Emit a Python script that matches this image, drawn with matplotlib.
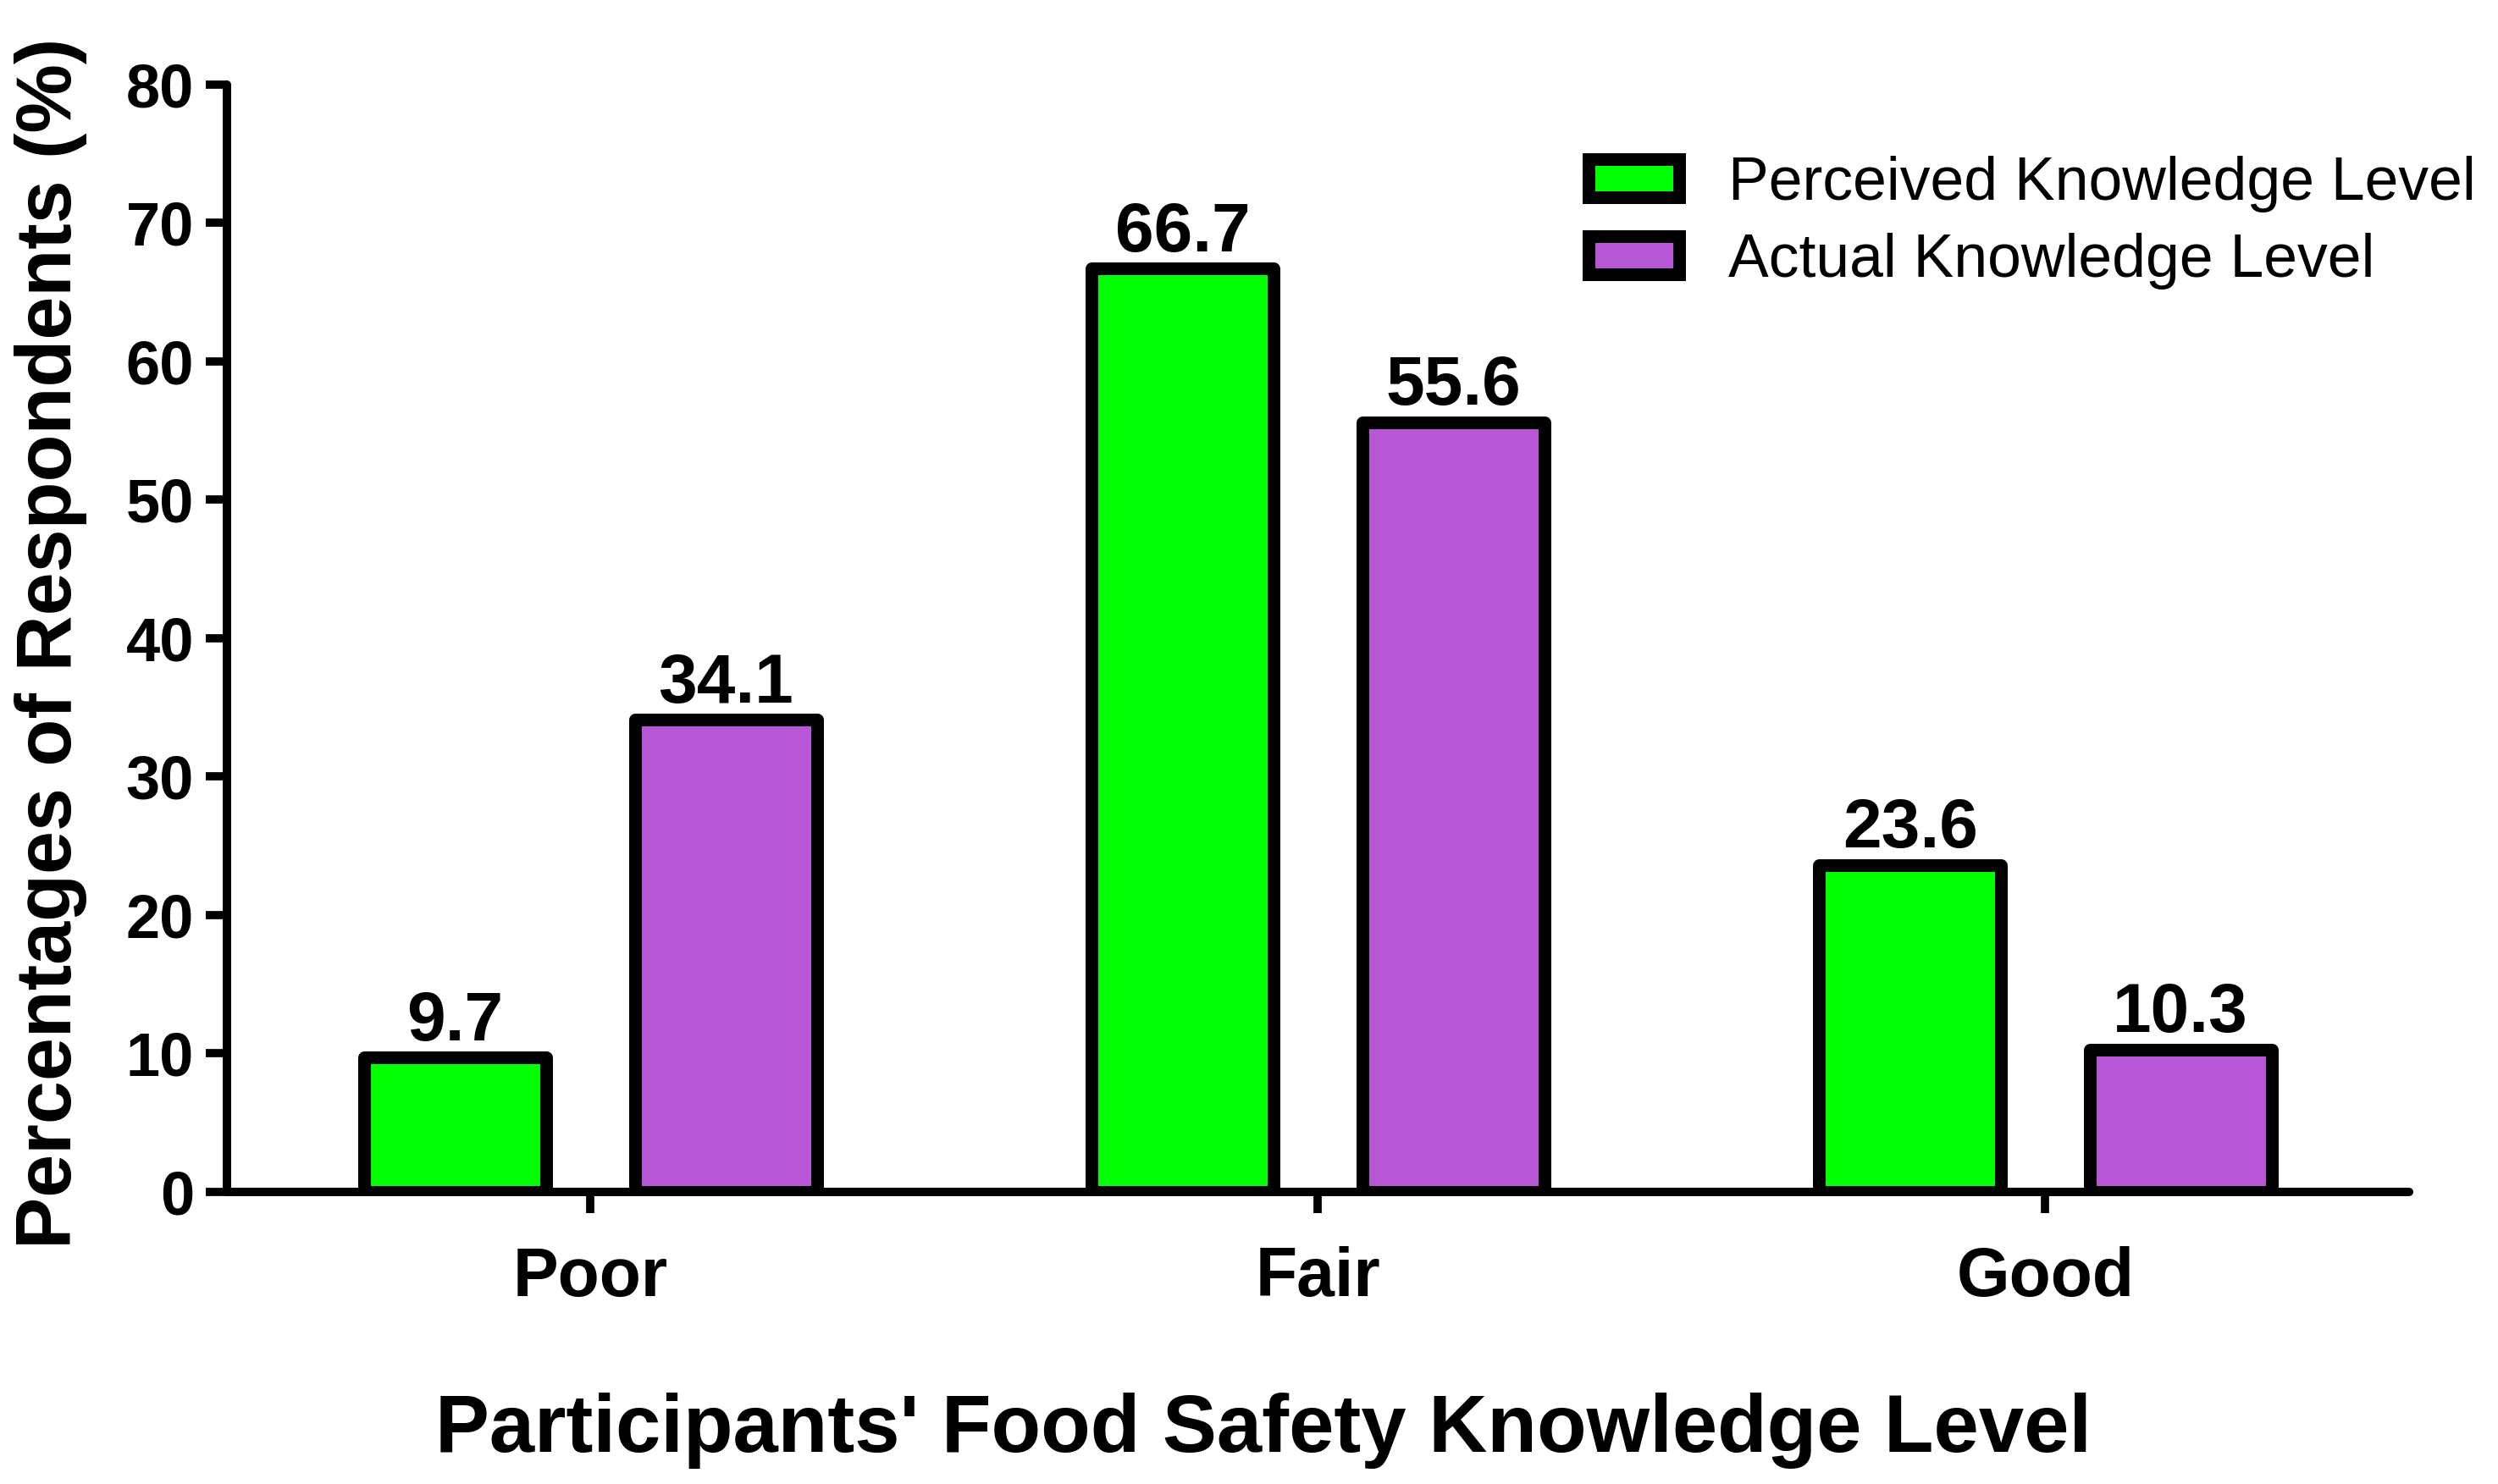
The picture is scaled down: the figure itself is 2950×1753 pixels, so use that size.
import matplotlib
matplotlib.use("Agg")
import matplotlib.pyplot as plt
import numpy as np

plt.rcParams['font.family'] = ['Liberation Sans', 'DejaVu Sans']

# data
categories = ['Poor', 'Fair', 'Good']
perceived = [9.7, 66.7, 23.6]
actual = [34.1, 55.6, 10.3]
series_names = ['Perceived Knowledge Level', 'Actual Knowledge Level']
yticks = [0, 10, 20, 30, 40, 50, 60, 70, 80]

green = '#00FF00'
purple = '#B857D6'

fig = plt.figure(figsize=(29.5, 17.53), dpi=100)
ax = fig.add_axes([0.0908, 0.1968, 0.8736, 0.7462])

x = np.arange(len(categories))
w = 0.25
off = 0.186
b1 = ax.bar(x - off, perceived, w, color=green, edgecolor='black', linewidth=10.8,
            label=series_names[0])
b2 = ax.bar(x + off, actual, w, color=purple, edgecolor='black', linewidth=10.8,
            label=series_names[1])
for bars in (b1, b2):
    for r in bars:
        r.set_joinstyle('round')

# value labels above bars
for bars, vals in ((b1, perceived), (b2, actual)):
    for r, v in zip(bars, vals):
        ax.annotate(f'{v:.1f}', (r.get_x() + r.get_width() / 2, v),
                    xytext=(0, 15), textcoords='offset points',
                    ha='center', va='baseline', fontsize=59, fontweight='bold')

ax.set_xlim(-0.5, 2.5)
ax.set_ylim(0, 80)
ax.set_yticks(yticks)
ax.set_xticks(x)
ax.set_xticklabels(categories, fontsize=58, fontweight='bold')
for lab in ax.get_yticklabels():
    lab.set_fontsize(52)
    lab.set_fontweight('bold')

for s in ('top', 'right'):
    ax.spines[s].set_visible(False)
for s in ('left', 'bottom'):
    ax.spines[s].set_linewidth(7.2)
    ax.spines[s].set_capstyle('round')
ax.tick_params(axis='both', direction='out', length=18, width=7)
ax.tick_params(axis='y', pad=10)
ax.tick_params(axis='x', pad=28)

fig.text(0.0203, 0.5665, 'Percentages of Respondents (%)', rotation=90,
         ha='center', va='center', fontsize=66, fontweight='bold')
fig.text(0.5058, 0.0217, "Participants' Food Safety Knowledge Level",
         ha='center', va='baseline', fontsize=69, fontweight='bold')

leg = ax.legend(loc='upper left', bbox_to_anchor=(1876 / 2950, 1 - 184 / 1753),
                bbox_transform=fig.transFigure, frameon=False, fontsize=51.5,
                handlelength=1.5, handleheight=0.6, handletextpad=0.8,
                labelspacing=0.33, borderpad=0, borderaxespad=0)

fig.savefig('out.png', dpi=100)
